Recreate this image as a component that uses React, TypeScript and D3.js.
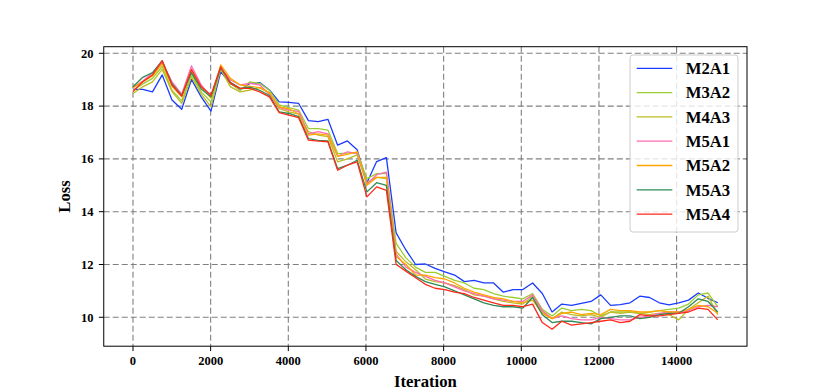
import React from "react";
import * as d3 from "d3";

const STEP = 251;
const xTicks = [0, 2000, 4000, 6000, 8000, 10000, 12000, 14000];
const yTicks = [10, 12, 14, 16, 18, 20];
const seriesNames = ["M2A1", "M3A2", "M4A3", "M5A1", "M5A2", "M5A3", "M5A4"];
const seriesColors = ["#1a3cff", "#9acd32", "#bcbd22", "#ff69b4", "#ffa500", "#2e8b57", "#ff2a1a"];

const M2A1 = [18.63, 18.63, 18.54, 19.18, 18.23, 17.88, 19.01, 18.35, 17.81, 19.3, 18.86, 18.61, 18.86, 18.89, 18.61, 18.16, 18.14, 18.1, 17.45, 17.41, 17.5, 16.52, 16.68, 16.35, 15.1, 15.9, 16.05, 13.2, 12.55, 12.0, 12.02, 11.85, 11.72, 11.6, 11.35, 11.4, 11.3, 11.3, 10.95, 11.05, 11.05, 11.3, 10.9, 10.2, 10.5, 10.45, 10.53, 10.6, 10.85, 10.45, 10.48, 10.55, 10.8, 10.75, 10.55, 10.47, 10.55, 10.65, 10.92, 10.72, 10.55];
const M3A2 = [18.6, 18.84, 19.05, 19.5, 18.6, 18.2, 19.22, 18.54, 18.16, 19.45, 18.86, 18.6, 18.92, 18.86, 18.6, 18.05, 17.94, 17.85, 17.15, 17.15, 17.09, 16.2, 16.22, 16.25, 15.25, 15.44, 15.45, 12.8, 12.25, 11.9, 11.7, 11.7, 11.55, 11.4, 11.3, 11.1, 11.05, 10.9, 10.8, 10.75, 10.7, 10.9, 10.3, 10.05, 10.35, 10.25, 10.3, 10.25, 10.05, 10.2, 10.2, 10.2, 10.15, 10.2, 10.25, 10.3, 10.35, 10.5, 10.85, 10.92, 10.4];
const M4A3 = [18.48, 18.73, 18.92, 19.39, 18.55, 18.1, 19.11, 18.45, 17.97, 19.4, 18.73, 18.54, 18.61, 18.7, 18.5, 17.9, 17.78, 17.7, 17.03, 16.9, 16.84, 15.89, 16.0, 16.15, 15.1, 15.3, 15.25, 12.5, 12.1, 11.8, 11.45, 11.35, 11.3, 11.2, 11.05, 10.85, 10.8, 10.7, 10.6, 10.55, 10.5, 10.8, 10.2, 9.95, 10.2, 10.1, 10.05, 10.1, 10.0, 10.2, 10.15, 10.2, 10.15, 10.1, 10.15, 10.1, 9.9, 10.3, 10.55, 10.8, 10.1];
const M5A1 = [18.7, 18.95, 19.24, 19.65, 18.92, 18.45, 19.52, 18.8, 18.35, 19.45, 18.99, 18.8, 18.86, 18.8, 18.45, 17.95, 17.85, 17.8, 16.95, 17.03, 16.95, 16.1, 16.27, 16.2, 15.05, 15.4, 15.5, 12.4, 11.9, 11.7, 11.55, 11.4, 11.3, 11.15, 11.0, 10.9, 10.8, 10.7, 10.65, 10.6, 10.6, 10.85, 10.25, 9.95, 10.05, 9.95, 9.9, 9.9, 10.0, 9.95, 9.9, 9.9, 10.0, 10.05, 10.15, 10.2, 10.2, 10.25, 10.4, 10.45, 10.4];
const M5A2 = [18.7, 18.92, 19.14, 19.6, 18.75, 18.35, 19.35, 18.7, 18.3, 19.56, 19.05, 18.8, 18.75, 18.7, 18.5, 17.97, 17.9, 17.7, 16.9, 16.95, 16.9, 16.1, 16.17, 16.27, 15.0, 15.3, 15.3, 12.3, 12.0, 11.6, 11.6, 11.5, 11.45, 11.3, 11.1, 10.95, 10.85, 10.75, 10.7, 10.6, 10.55, 10.65, 10.15, 9.95, 10.15, 10.2, 10.1, 10.15, 10.1, 10.3, 10.25, 10.25, 10.2, 10.2, 10.25, 10.2, 10.2, 10.3, 10.45, 10.4, 10.15];
const M5A3 = [18.73, 19.09, 19.27, 19.72, 18.85, 18.4, 19.27, 18.65, 18.35, 19.45, 18.9, 18.67, 18.72, 18.6, 18.4, 17.78, 17.72, 17.6, 16.77, 16.7, 16.68, 15.63, 15.76, 15.95, 14.75, 15.1, 15.0, 12.15, 11.8, 11.55, 11.35, 11.25, 11.15, 11.0, 10.85, 10.7, 10.55, 10.45, 10.4, 10.4, 10.35, 10.75, 10.1, 9.8, 9.85, 9.85, 9.8, 9.75, 9.95, 10.0, 10.05, 10.05, 9.95, 10.0, 10.1, 10.15, 10.15, 10.4, 10.7, 10.6, 10.2];
const M5A4 = [18.55, 18.92, 19.18, 19.72, 18.8, 18.38, 19.39, 18.73, 18.42, 19.49, 18.86, 18.67, 18.67, 18.54, 18.35, 17.75, 17.66, 17.56, 16.71, 16.67, 16.65, 15.57, 15.76, 15.89, 14.56, 14.94, 14.81, 12.0, 11.75, 11.5, 11.25, 11.1, 11.05, 10.95, 10.9, 10.75, 10.65, 10.55, 10.45, 10.45, 10.4, 10.5, 9.8, 9.55, 9.85, 9.7, 9.75, 9.8, 9.85, 9.9, 9.8, 9.85, 10.1, 10.05, 10.05, 10.1, 10.15, 10.2, 10.35, 10.3, 9.9];

const seriesValues = [M2A1, M3A2, M4A3, M5A1, M5A2, M5A3, M5A4];

const W = 830;
const H = 389;
const L = 103.75, R = 747, T = 46.7, B = 346.2;
const FONT = "'Liberation Serif', 'Times New Roman', serif";

export default function App() {
  const x = d3.scaleLinear().domain([-753, 15813]).range([L, R]);
  const y = d3.scaleLinear().domain([8.905, 20.25]).range([B, T]);
  const line = d3
    .line<number>()
    .x((_, i) => x(i * STEP))
    .y((d) => y(d));

  const legX = 630, legY = 55, legW = 108, legH = 177;
  const rowY0 = 68.3, rowDy = 24.3;

  return (
    <svg width={W} height={H} style={{ position: "absolute", left: 0, top: 0, background: "#fff" }}>
      <rect x={0} y={0} width={W} height={H} fill="#fff" />
      <defs>
        <clipPath id="plotclip">
          <rect x={L} y={T} width={R - L} height={B - T} />
        </clipPath>
      </defs>
      <g stroke="#808080" strokeWidth={1.1} strokeDasharray="6,3" fill="none">
        {xTicks.map((t) => (
          <line key={"gx" + t} x1={x(t)} x2={x(t)} y1={T} y2={B} />
        ))}
        {yTicks.map((t) => (
          <line key={"gy" + t} x1={L} x2={R} y1={y(t)} y2={y(t)} />
        ))}
      </g>
      <g clipPath="url(#plotclip)" fill="none">
        {seriesValues.map((vals, k) => (
          <path key={seriesNames[k]} d={line(vals) || ""} stroke={seriesColors[k]} strokeWidth={1.3} strokeLinejoin="round" />
        ))}
      </g>
      <rect x={L} y={T} width={R - L} height={B - T} fill="none" stroke="#000" strokeWidth={1} />
      <g stroke="#000" strokeWidth={1}>
        {xTicks.map((t) => (
          <line key={"tx" + t} x1={x(t)} x2={x(t)} y1={B} y2={B + 4.9} />
        ))}
        {yTicks.map((t) => (
          <line key={"ty" + t} x1={L - 4.9} x2={L} y1={y(t)} y2={y(t)} />
        ))}
      </g>
      <g fontFamily={FONT} fontWeight="bold" fontSize={12.5} fill="#000">
        {xTicks.map((t) => (
          <text key={"lx" + t} x={x(t)} y={365} textAnchor="middle">
            {t}
          </text>
        ))}
        {yTicks.map((t) => (
          <text key={"ly" + t} x={93.5} y={y(t) + 4.4} textAnchor="end">
            {t}
          </text>
        ))}
      </g>
      <text x={(L + R) / 2} y={386.5} textAnchor="middle" fontFamily={FONT} fontWeight="bold" fontSize={16.67}>
        Iteration
      </text>
      <text
        transform={`translate(70,${(T + B) / 2}) rotate(-90)`}
        textAnchor="middle"
        fontFamily={FONT}
        fontWeight="bold"
        fontSize={16.67}
      >
        Loss
      </text>
      <rect x={legX} y={legY} width={legW} height={legH} rx={3} fill="#fff" fillOpacity={0.8} stroke="#cccccc" strokeWidth={1} />
      {seriesNames.map((n, k) => (
        <g key={"leg" + n}>
          <line x1={636.7} x2={672.3} y1={rowY0 + k * rowDy} y2={rowY0 + k * rowDy} stroke={seriesColors[k]} strokeWidth={1.3} />
          <text x={685.7} y={rowY0 + k * rowDy + 5.8} fontFamily={FONT} fontWeight="bold" fontSize={16.67} fill="#000">
            {n}
          </text>
        </g>
      ))}
    </svg>
  );
}
